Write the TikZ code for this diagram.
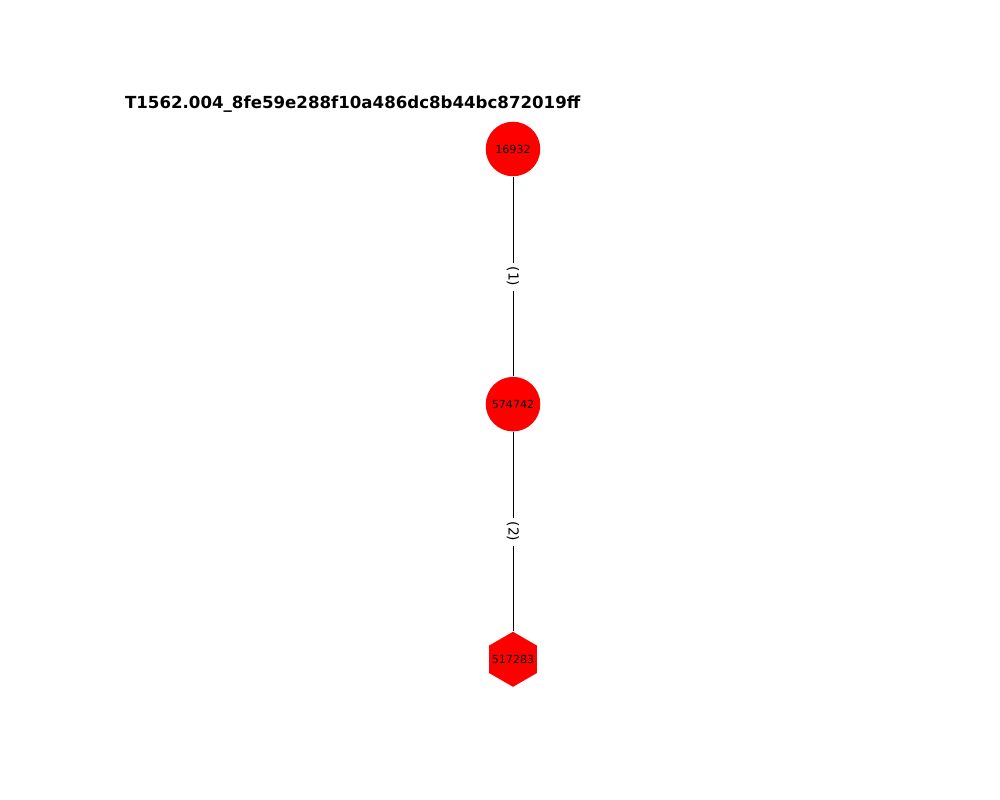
\documentclass[tikz,border=0pt]{standalone}
\usepackage{fontspec}
\setmainfont{DejaVu Sans}
\usetikzlibrary{positioning,shapes.geometric}

\begin{document}
\begin{tikzpicture}[x=0.01in,y=-0.01in,node distance=2.55in,line width=0.7pt,
  hit/.style={circle,fill=red,minimum size=0.545in,inner sep=0pt,font=\fontsize{8}{9.6}\selectfont},
  leaf/.style={regular polygon,regular polygon sides=6,shape border rotate=30,fill=red,minimum size=0.55in,inner sep=0pt,
    label={[font=\fontsize{8}{9.6}\selectfont]center:#1}},
  count/.style={fill=white,rotate=-90,inner sep=3pt,font=\fontsize{10}{12}\selectfont}]
	\fill[white] (0,0) rectangle (1000,800);
	\useasboundingbox (0,0) rectangle (1000,800);
	\node [anchor=base west,font=\bfseries\fontsize{12}{14.4}\selectfont] (title) at (120,109) {T1562.004\_8fe59e288f10a486dc8b44bc872019ff};
	\node [hit] (A) at (513,149) {16932};
	\node [hit] (B) [below of = A] {574742};
	\node [leaf=517283] (C) [below of = B] {};

  \path (A) edge node[count] {(1)} (B);
  \path (B) edge node[count] {(2)} (C);

  \end{tikzpicture}
\end{document}
